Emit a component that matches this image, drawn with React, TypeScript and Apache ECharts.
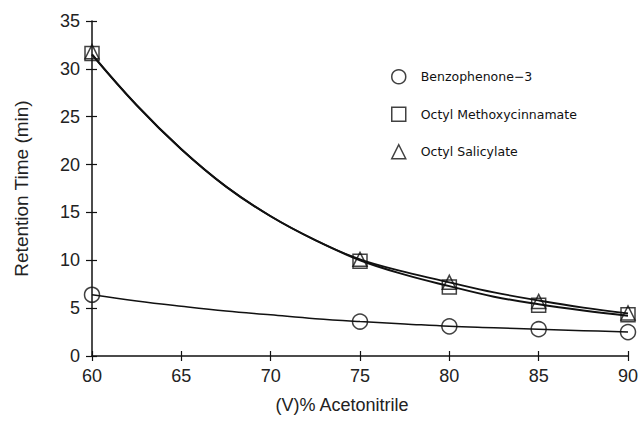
import React, { useEffect, useRef } from "react";
import * as echarts from "echarts";

// Measured points
const xMeasured = [60, 75, 80, 85, 90];
const benzophenone = [6.4, 3.6, 3.1, 2.8, 2.5];
const octylMethoxy = [31.6, 9.9, 7.2, 5.3, 4.3];
const octylSalicylate = [31.8, 10.1, 7.7, 5.7, 4.5];

// Fitted curves
const xFit = [60, 62.5, 65, 67.5, 70, 72.5, 75, 77.5, 80, 82.5, 85, 87.5, 90];
const fitBenzo = [6.4, 5.75, 5.2, 4.7, 4.3, 3.9, 3.6, 3.35, 3.1, 2.95, 2.8, 2.65, 2.5];
const fitMethoxy = [31.5, 26.2, 21.6, 17.7, 14.6, 12.1, 10.0, 8.5, 7.3, 6.2, 5.4, 4.75, 4.2];
const fitSalicylate = [31.5, 26.2, 21.6, 17.7, 14.6, 12.1, 10.1, 8.8, 7.7, 6.65, 5.8, 5.05, 4.45];

const xTicks = { min: 60, max: 90, interval: 5 };
const yTicks = { min: 0, max: 35, interval: 5 };

const pair = (xs: number[], ys: number[]) => xs.map((x, i) => [x, ys[i]]);

export default function App() {
  const ref = useRef<HTMLDivElement>(null);
  useEffect(() => {
    if (!ref.current) return;
    const chart = echarts.init(ref.current, undefined, { renderer: "svg" });
    const font = "Liberation Sans";
    const hollow = { color: "rgba(255,255,255,0)", borderColor: "#111", borderWidth: 1.5 };
    const fitLine = (name: string, ys: number[], w: number) => ({
      name,
      type: "line",
      data: pair(xFit, ys),
      smooth: 0.4,
      showSymbol: false,
      symbol: "none",
      lineStyle: { color: "#111", width: w },
      silent: true,
      z: 2,
    });
    const marks = (name: string, ys: number[], symbol: string, size: number) => ({
      name,
      type: "scatter",
      data: pair(xMeasured, ys),
      symbol,
      symbolSize: size,
      itemStyle: hollow,
      z: 3,
    });
    chart.setOption({
      animation: false,
      backgroundColor: "#fff",
      textStyle: { fontFamily: font },
      grid: { left: 92, right: 14, top: 21, bottom: 66, containLabel: false },
      legend: {
        orient: "vertical",
        left: 386,
        top: 64,
        itemGap: 22,
        itemWidth: 14,
        itemHeight: 14,
        textStyle: { fontSize: 12.5, color: "#111", fontFamily: "DejaVu Sans", padding: [0, 0, 0, 10] },
        itemStyle: hollow,
        data: [
          { name: "Benzophenone\u22123", icon: "circle" },
          { name: "Octyl Methoxycinnamate", icon: "rect" },
          { name: "Octyl Salicylate", icon: "triangle" },
        ],
      },
      xAxis: [
        {
          type: "value",
          ...xTicks,
          name: "(V)% Acetonitrile",
          nameLocation: "middle",
          nameGap: 40,
          nameTextStyle: { fontSize: 18, color: "#222", padding: [0, 36, 0, 0] },
          axisLine: { lineStyle: { color: "#111", width: 1.5 } },
          axisTick: { length: 5, lineStyle: { color: "#111", width: 1.2 } },
          axisLabel: { fontSize: 18, color: "#222", margin: 11 },
          splitLine: { show: false },
        },
        {
          type: "value",
          ...xTicks,
          position: "bottom",
          axisLine: { show: false },
          axisTick: { inside: true, length: 5, lineStyle: { color: "#111", width: 1.2 } },
          axisLabel: { show: false },
          splitLine: { show: false },
        },
      ],
      yAxis: [
        {
          type: "value",
          ...yTicks,
          name: "Retention Time (min)",
          nameLocation: "middle",
          nameGap: 61,
          nameTextStyle: { fontSize: 19, color: "#222" },
          axisLine: { show: true, lineStyle: { color: "#111", width: 1.5 } },
          axisTick: { show: true, length: 6, lineStyle: { color: "#111", width: 1.2 } },
          axisLabel: { fontSize: 18, color: "#222", margin: 12 },
          splitLine: { show: false },
        },
        {
          type: "value",
          ...yTicks,
          position: "left",
          axisLine: { show: false },
          axisTick: { show: true, inside: true, length: 5, lineStyle: { color: "#111", width: 1.2 } },
          axisLabel: { show: false },
          splitLine: { show: false },
        },
      ],
      series: [
        fitLine("fit-b", fitBenzo, 1.5),
        fitLine("fit-m", fitMethoxy, 2),
        fitLine("fit-s", fitSalicylate, 1.8),
        marks("Benzophenone\u22123", benzophenone, "circle", 15),
        marks("Octyl Methoxycinnamate", octylMethoxy, "rect", 14),
        marks("Octyl Salicylate", octylSalicylate, "triangle", 14),
      ],
    });
    return () => chart.dispose();
  }, []);
  return <div ref={ref} style={{ width: 642, height: 422, position: "absolute", left: 0, top: 0 }} />;
}
